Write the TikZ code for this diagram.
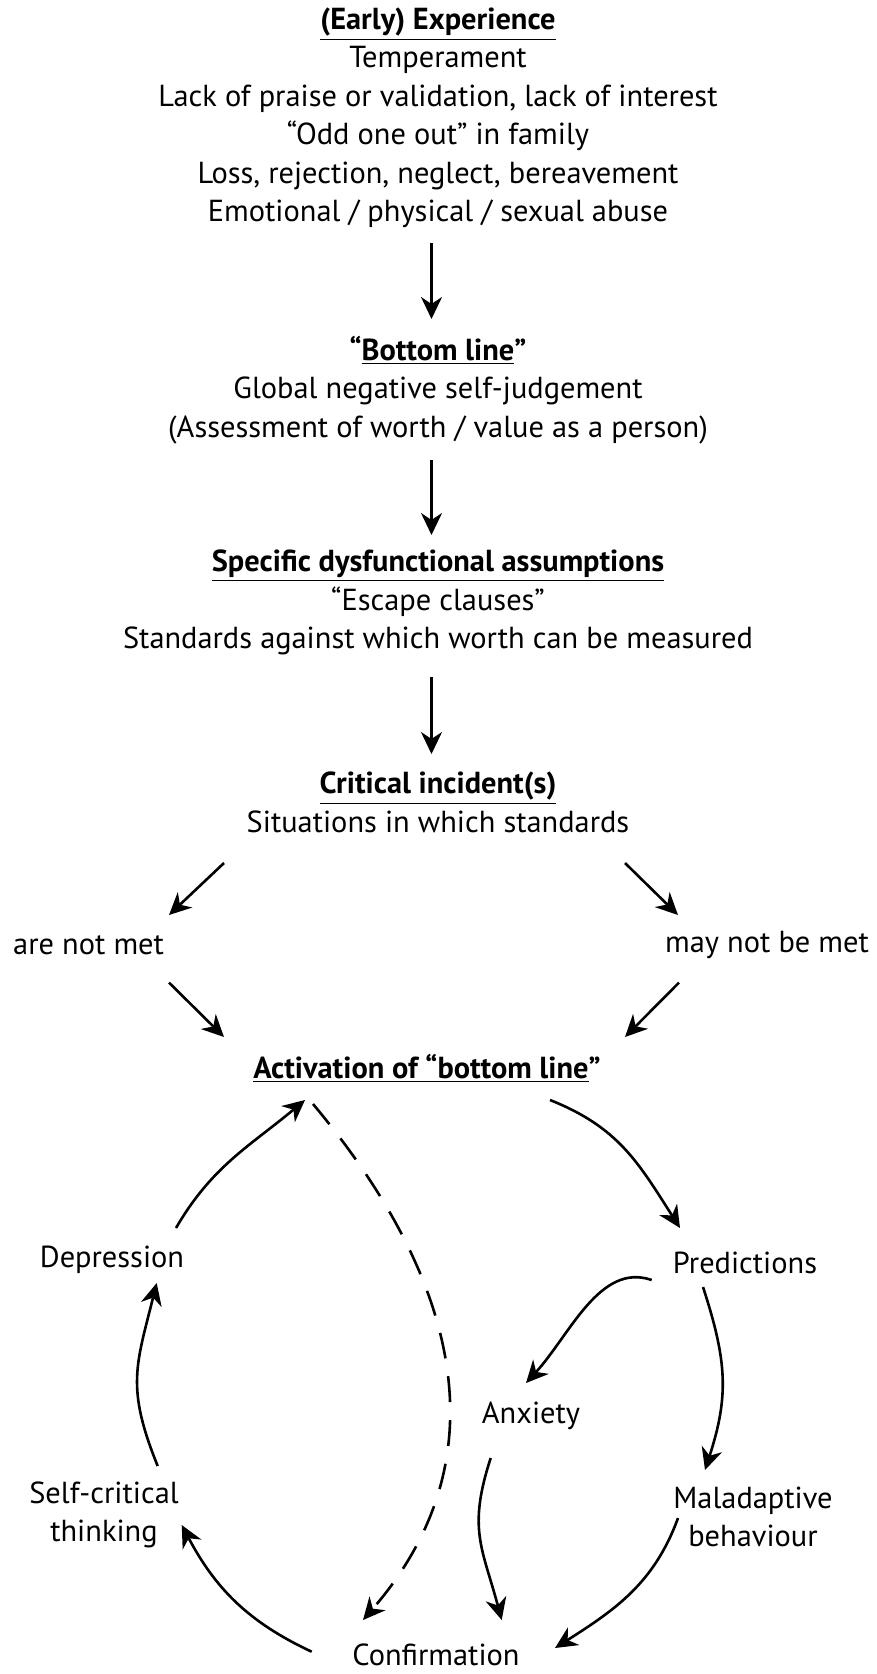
\documentclass[tikz,border=0pt]{standalone}
\usepackage{fontspec}
\setmainfont{PT Sans}
\usepackage{tikz}
\usetikzlibrary{arrows.meta}
\tikzstyle{txt}   = [align=center, inner sep=0pt, font=\fontsize{15.2}{19.25}\selectfont]
\tikzstyle{arrow} = [line width=1.3pt, -{Stealth[length=11pt, width=10.5pt, inset=3.5pt]}]
\tikzstyle{dashedarrow} = [arrow, dash pattern=on 13pt off 9pt]
\newcommand{\heading}[1]{\textbf{\underline{#1}}}

\begin{document}
\begin{tikzpicture}[x=0.5pt, y=-0.5pt, every node/.style={txt}]
		\useasboundingbox (0,0) rectangle (877,1674);
		\node (exp) at (438,118) {\heading{(Early) Experience}\\ Temperament\\
			Lack of praise or validation, lack of interest\\ “Odd one out” in family\\
			Loss, rejection, neglect, bereavement\\ Emotional / physical / sexual abuse};
		\node[below of=exp, node distance=136pt] (bott) {\textbf{“\underline{Bottom line}”}\\
			Global negative self-judgement\\ (Assessment of worth / value as a person)};
		\node[below of=bott, node distance=106.25pt] (spec) {\heading{Specific dysfunctional assumptions}\\
			“Escape clauses”\\ Standards against which worth can be measured};
		\node[below of=spec, node distance=100pt] (crit) {\heading{Critical incident(s)}\\ Situations in which standards};
		\node[below of=crit, node distance=133pt, xshift=-5.5pt] (act) {\textbf{\underline{Activation of “bottom line}”}};

		\node (notmet) at (88.6,945) {are not met};
		\node (maynot) at (767,945) {may not be met};

		\node (pred) at (745,1263) {Predictions};
		\node (dep)  at (112,1260) {Depression};
		\node (anx)  at (531,1416) {Anxiety};
		\node (mal)  at (753,1517) {Maladaptive\\ behaviour};
		\node (self) at (104,1515) {Self-critical\\ thinking};
		\node (conf) at (436,1655) {Confirmation};

		\draw[arrow] ([shift={(-6.5,125.5)}]exp.center) -- ([shift={(-6.5,-71)}]bott.center);
		\draw[arrow] ([shift={(-6.5,70)}]bott.center) -- ([shift={(-6.5,-67.5)}]spec.center);
		\draw[arrow] ([shift={(-6.5,74.5)}]spec.center) -- ([shift={(-6.5,-48.5)}]crit.center);

		\draw[arrow] ([shift={(-214,60.5)}]crit.center) -- ([shift={(80.4,-30)}]notmet.center);
		\draw[arrow] ([shift={(187,60.5)}]crit.center) -- ([shift={(-89,-30)}]maynot.center);
		\draw[arrow] ([shift={(80.4,37.6)}]notmet.center) -- ([shift={(-203,-31.5)}]act.center);
		\draw[arrow] ([shift={(-88,37.6)}]maynot.center) -- ([shift={(198,-31.5)}]act.center);

		\draw[arrow] ([shift={(123,31.5)}]act.center) .. controls +(68,27) and +(-42,-66) .. ([shift={(-65,-35)}]pred.center);
		\draw[arrow] ([shift={(64,-32)}]dep.center) .. controls +(36,-62) and +(-55,46) .. ([shift={(-122,31.5)}]act.center);
		\draw[dashedarrow] ([shift={(-114,35.5)}]act.center) .. controls +(141,168.5) and +(144,-166) .. ([shift={(-73,-35)}]conf.center);
		\draw[arrow] ([shift={(-93.3,17)}]pred.center) .. controls +(-52,-18) and +(44,-48) .. ([shift={(-5,-33)}]anx.center);
		\draw[arrow] ([shift={(-42,24)}]pred.center) .. controls +(24.1,74.2) and +(24.1,-74.2) .. ([shift={(-48,-47)}]mal.center);
		\draw[arrow] ([shift={(-40.3,42)}]anx.center) .. controls +(-23.2,71.3) and +(-19.4,-72.4) .. ([shift={(65.7,-35)}]conf.center);
		\draw[arrow] ([shift={(-75,1)}]mal.center) .. controls +(-23.9,65.8) and +(59,-37.6) .. ([shift={(119,-7)}]conf.center);
		\draw[arrow] ([shift={(-124.3,-3.3)}]conf.center) .. controls +(-64.3,-30) and +(33.3,62.7) .. ([shift={(77.7,10)}]self.center);
		\draw[arrow] ([shift={(53.7,-49)}]self.center) .. controls +(-31.9,-78.8) and +(-20.6,82.5) .. ([shift={(44.7,23)}]dep.center);
	\end{tikzpicture}
\end{document}
